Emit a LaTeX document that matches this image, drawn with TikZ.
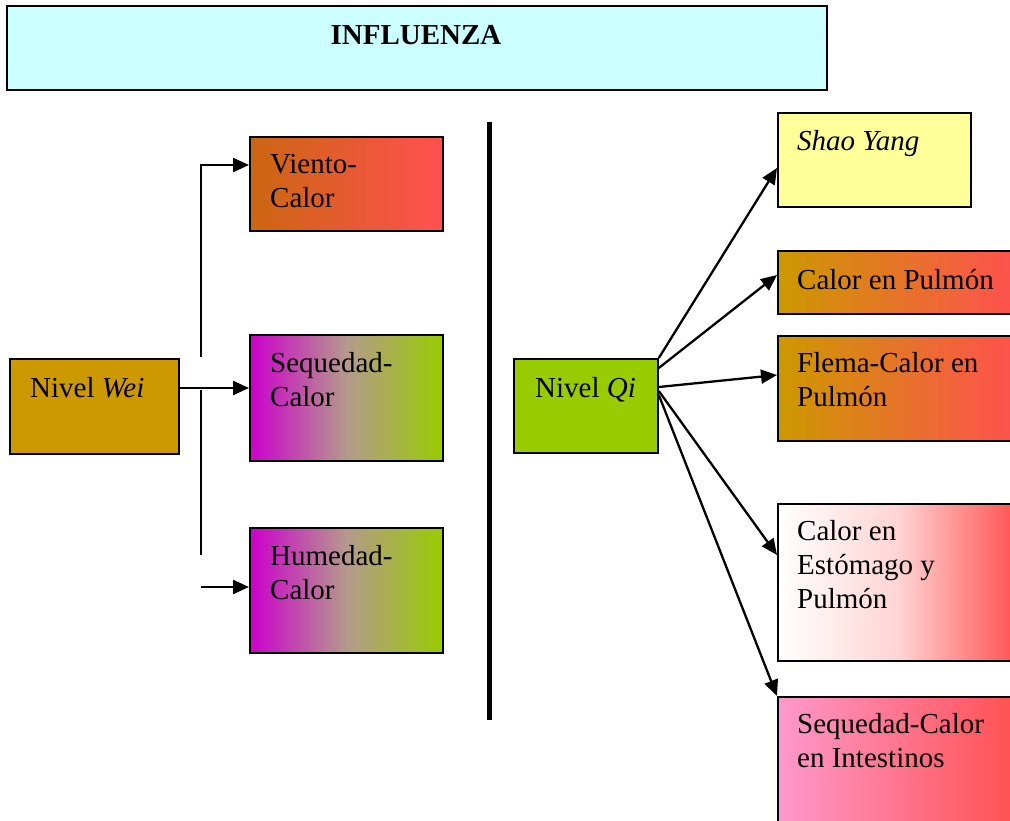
\documentclass[tikz,border=0pt]{standalone}
\usepackage{fontspec}
\setmainfont{Liberation Serif}
\usetikzlibrary{arrows.meta}
\definecolor{titlecyan}{HTML}{CCFFFF}
\definecolor{ochre}{HTML}{CC9900}
\definecolor{rust}{HTML}{CC6611}
\definecolor{salmon}{HTML}{FF5050}
\definecolor{magenta2}{HTML}{CC00CC}
\definecolor{lime2}{HTML}{99CC00}
\definecolor{midtan}{HTML}{B49A8C}
\definecolor{paleyellow}{HTML}{FFFF99}
\definecolor{pink2}{HTML}{FF99CC}
\definecolor{palepink}{HTML}{FFD4D4}
\newcommand\mystrut{\rule{0pt}{24pt}}
\newcommand\myfs{\fontsize{29}{34}\selectfont}
\begin{document}
\begin{tikzpicture}[x=1pt,y=-1pt,
  box/.style={draw=black, line width=1.8pt, rectangle, inner sep=0pt, anchor=north west},
  txt/.style={anchor=north west, inner sep=0pt, align=left, font=\myfs},
  conn/.style={line width=2.3pt, -{Triangle[length=16pt,width=14pt]}},
  plain/.style={line width=2.3pt},
  sep/.style={line width=5pt}]
\useasboundingbox (0,0) rectangle (1010,820);
% title
\node[box, fill=titlecyan, minimum width=820pt, minimum height=84pt] (title) at (6,5) {};
\node[anchor=base, inner sep=0pt, font=\myfs\bfseries] (titletxt) at (416,44) {INFLUENZA};
% left column
\node[box, fill=ochre, minimum width=169pt, minimum height=95pt] (wei) at (9,358) {};
\node[txt] (weitxt) at (30,373) {\mystrut Nivel \textit{Wei}};
\node[box, left color=rust, right color=salmon, minimum width=193pt, minimum height=94pt] (viento) at (249,136) {};
\node[txt] (vientotxt) at (270,149) {\mystrut Viento-\\Calor};
\node[box, left color=magenta2, right color=lime2, middle color=midtan, minimum width=193pt, minimum height=126pt] (seq) at (249,334) {};
\node[txt] (seqtxt) at (270,348) {\mystrut Sequedad-\\Calor};
\node[box, left color=magenta2, right color=lime2, middle color=midtan, minimum width=193pt, minimum height=125pt] (hum) at (249,527) {};
\node[txt] (humtxt) at (270,541) {\mystrut Humedad-\\Calor};
% left connectors
\coordinate (la) at (201,357);
\coordinate (lb) at (201,165);
\coordinate (lc) at (201,390);
\coordinate (ld) at (201,555);
\coordinate (le) at (201,587);
\draw[conn] (la) -- (lb) -- (lb -| viento.west);
\draw[conn] (wei.east |- 0,388) -- (seq.west |- 0,388);
\draw[plain] (lc) -- (ld);
\draw[conn] (le) -- (le -| hum.west);
% separator
\coordinate (st) at (489,122);
\coordinate (sb) at (489,720);
\draw[sep] (st) -- (sb);
% right column
\node[box, fill=lime2, minimum width=144pt, minimum height=94pt] (qi) at (513,358) {};
\node[txt] (qitxt) at (535,373) {\mystrut Nivel \textit{Qi}};
\node[box, fill=paleyellow, minimum width=193pt, minimum height=94pt] (shao) at (777,112) {};
\node[txt] (shaotxt) at (797,126) {\mystrut\textit{Shao Yang}};
\node[box, left color=ochre, right color=salmon, minimum width=240pt, minimum height=63pt] (cpul) at (777,250) {};
\node[txt] (cpultxt) at (797,265) {\mystrut Calor en Pulmón};
\node[box, left color=ochre, right color=salmon, minimum width=240pt, minimum height=105pt] (flema) at (777,335) {};
\node[txt] (flematxt) at (797,348) {\mystrut Flema-Calor en\\Pulmón};
\node[box, left color=white, right color=salmon, middle color=palepink, minimum width=240pt, minimum height=157pt] (est) at (777,503) {};
\node[txt] (esttxt) at (797,516) {\mystrut Calor en\\Estómago y\\Pulmón};
\node[box, left color=pink2, right color=salmon, minimum width=240pt, minimum height=140pt] (int) at (777,696) {};
\node[txt] (inttxt) at (797,709) {\mystrut Sequedad-Calor\\en Intestinos};
% right connectors
\draw[conn] (qi.north east) -- (shao.west |- 0,168);
\draw[conn] (qi.east |- 0,368) -- (cpul.west |- 0,275);
\draw[conn] (qi.east |- 0,387) -- (flema.west |- 0,375);
\draw[conn] (qi.east |- 0,391) -- (est.west |- 0,555);
\draw[conn] (qi.east |- 0,395) -- (int.north west);
\end{tikzpicture}
\end{document}
